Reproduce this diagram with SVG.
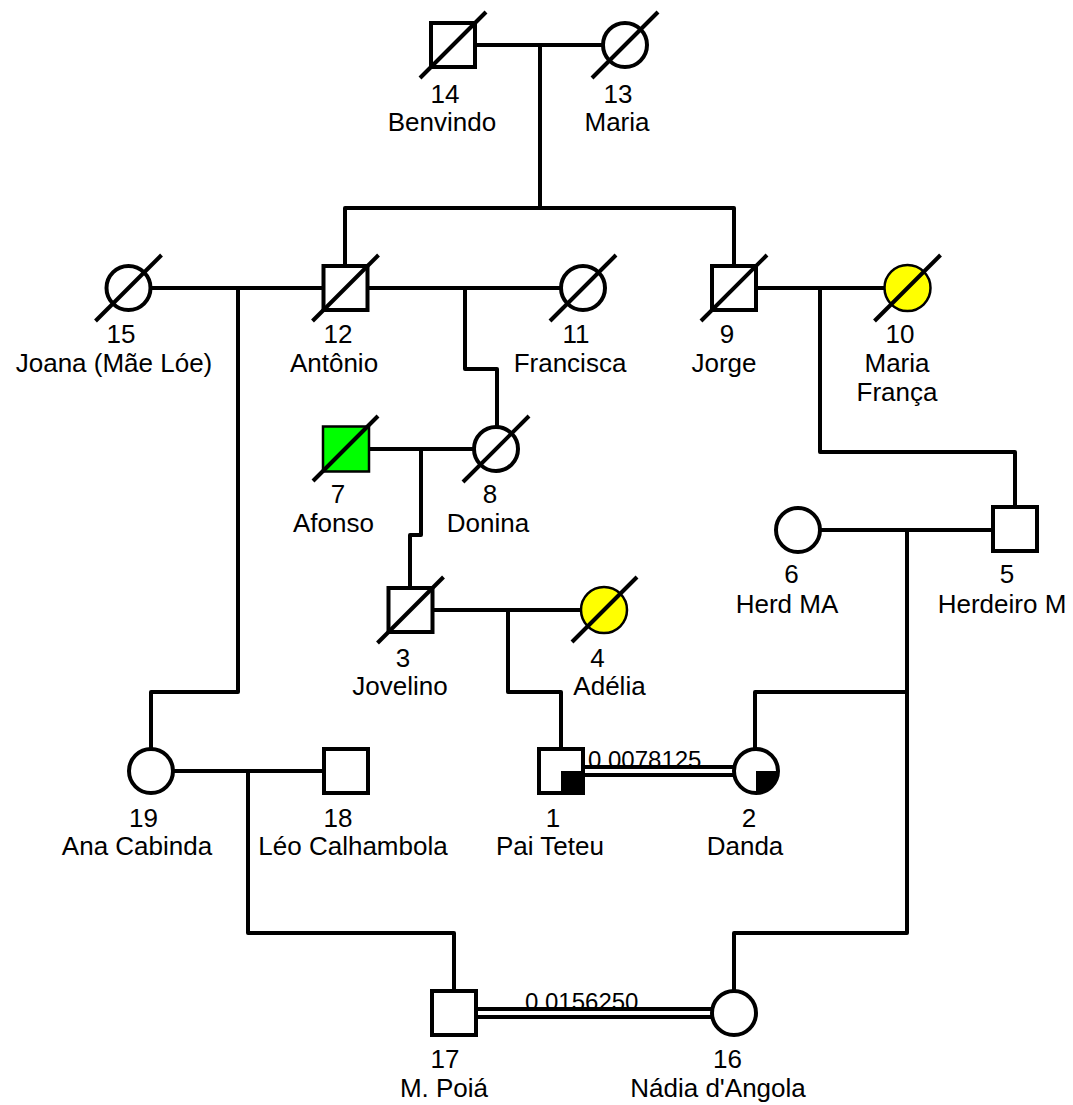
<svg xmlns="http://www.w3.org/2000/svg" width="1073" height="1105" viewBox="0 0 1073 1105">
<style>
.ln{fill:none;stroke:#000;stroke-width:4;stroke-linejoin:round}
.nd{fill:#fff;stroke:#000;stroke-width:4}
.aff{stroke:#000;stroke-width:2.5}
.dc{stroke:#000;stroke-width:4}
text{font-family:"Liberation Sans",Arial,sans-serif;font-size:26px;fill:#000;text-anchor:middle}
.cs{font-size:24px;text-anchor:start}
.dbk{fill:none;stroke:#000;stroke-width:12}
.dwh{fill:none;stroke:#fff;stroke-width:4}
</style>
<rect width="1073" height="1105" fill="#fff"/>
<g id="connectors">
<path class="ln" d="M475 45H603"/>
<path class="ln" d="M540 45V208"/>
<path class="ln" d="M345 266V208H734V266"/>
<path class="ln" d="M150 288H323"/>
<path class="ln" d="M238 288V692H151V749"/>
<path class="ln" d="M367 288H561"/>
<path class="ln" d="M465 288V369H497V427"/>
<path class="ln" d="M756 288H885"/>
<path class="ln" d="M820 288V452H1015V507"/>
<path class="ln" d="M368 449H474"/>
<path class="ln" d="M421 449V535H410V588"/>
<path class="ln" d="M432 610H582"/>
<path class="ln" d="M508 610V692H561V749"/>
<path class="ln" d="M820 530H993"/>
<path class="ln" d="M907 530V933H734V991"/>
<path class="ln" d="M907 692H755V749"/>
<path class="ln" d="M173 771H324"/>
<path class="ln" d="M248 771V933H454V991"/>
<text class="cs" x="588" y="768">0.0078125</text>
<path class="dbk" d="M582 771H734"/>
<path class="dwh" d="M582 771H734"/>
<text class="cs" x="525" y="1010">0.0156250</text>
<path class="dbk" d="M476 1013H712"/>
<path class="dwh" d="M476 1013H712"/>
</g>
<g id="n14">
<rect class="nd" x="431" y="23" width="44" height="44"/>
<line class="dc" x1="420" y1="78" x2="486" y2="12"/>
<text x="445" y="103">14</text><text x="442" y="131">Benvindo</text>
</g>
<g id="n13">
<circle class="nd" cx="625" cy="45" r="22"/>
<line class="dc" x1="592" y1="78" x2="658" y2="12"/>
<text x="618" y="103">13</text><text x="617" y="131">Maria</text>
</g>
<g id="n15">
<circle class="nd" cx="128.5" cy="288" r="22"/>
<line class="dc" x1="95.5" y1="321" x2="161.5" y2="255"/>
<text x="121" y="343">15</text><text x="114" y="372">Joana (Mãe Lóe)</text>
</g>
<g id="n12">
<rect class="nd" x="323.5" y="266" width="44" height="44"/>
<line class="dc" x1="312.5" y1="321" x2="378.5" y2="255"/>
<text x="338" y="343">12</text><text x="334" y="372">Antônio</text>
</g>
<g id="n11">
<circle class="nd" cx="583" cy="288" r="22"/>
<line class="dc" x1="550" y1="321" x2="616" y2="255"/>
<text x="576" y="343">11</text><text x="570" y="372">Francisca</text>
</g>
<g id="n9">
<rect class="nd" x="712" y="266" width="44" height="44"/>
<line class="dc" x1="701" y1="321" x2="767" y2="255"/>
<text x="727" y="343">9</text><text x="724" y="372">Jorge</text>
</g>
<g id="n10">
<circle class="aff" fill="#ffff00" cx="907.5" cy="288" r="23"/>
<line class="dc" x1="874.5" y1="321" x2="940.5" y2="255"/>
<text x="900" y="343">10</text><text x="897" y="372">Maria</text><text x="897" y="401">França</text>
</g>
<g id="n7">
<rect class="aff" fill="#00ff00" x="323" y="426.5" width="46" height="45"/>
<line class="dc" x1="313" y1="481" x2="378" y2="416"/>
<text x="338" y="503">7</text><text x="333.5" y="532">Afonso</text>
</g>
<g id="n8">
<circle class="nd" cx="496" cy="449" r="22"/>
<line class="dc" x1="463" y1="482" x2="529" y2="416"/>
<text x="490" y="503">8</text><text x="488" y="532">Donina</text>
</g>
<g id="n3">
<rect class="nd" x="388.5" y="588" width="44" height="44"/>
<line class="dc" x1="377.5" y1="643" x2="443.5" y2="577"/>
<text x="403" y="667">3</text><text x="400" y="695">Jovelino</text>
</g>
<g id="n4">
<circle class="aff" fill="#ffff00" cx="604" cy="610" r="23"/>
<line class="dc" x1="572" y1="642" x2="637" y2="577"/>
<text x="597.5" y="667">4</text><text x="609.5" y="695">Adélia</text>
</g>
<g id="n6">
<circle class="nd" cx="798" cy="530" r="22"/>
<text x="791.5" y="583">6</text><text x="787" y="613">Herd MA</text>
</g>
<g id="n5">
<rect class="nd" x="993" y="507" width="44" height="44"/>
<text x="1007" y="583">5</text><text x="1002" y="613">Herdeiro M</text>
</g>
<g id="n19">
<circle class="nd" cx="151" cy="771" r="22"/>
<text x="143.5" y="827">19</text><text x="137" y="855">Ana Cabinda</text>
</g>
<g id="n18">
<rect class="nd" x="324" y="749" width="44" height="44"/>
<text x="338" y="827">18</text><text x="353" y="855">Léo Calhambola</text>
</g>
<g id="n1">
<rect class="nd" x="539" y="749" width="44" height="44"/>
<rect x="561" y="771" width="22" height="22" fill="#000"/>
<text x="553" y="827">1</text><text x="550" y="855">Pai Teteu</text>
</g>
<g id="n2">
<circle class="nd" cx="756" cy="771" r="22"/>
<path d="M756 771H778A22 22 0 0 1 756 793Z" fill="#000"/>
<text x="749" y="827">2</text><text x="745" y="855">Danda</text>
</g>
<g id="n17">
<rect class="nd" x="432" y="991" width="44" height="44"/>
<text x="445" y="1068">17</text><text x="444" y="1097">M. Poiá</text>
</g>
<g id="n16">
<circle class="nd" cx="734" cy="1013" r="22"/>
<text x="727.5" y="1068">16</text><text x="718" y="1097">Nádia d'Angola</text>
</g>
</svg>
